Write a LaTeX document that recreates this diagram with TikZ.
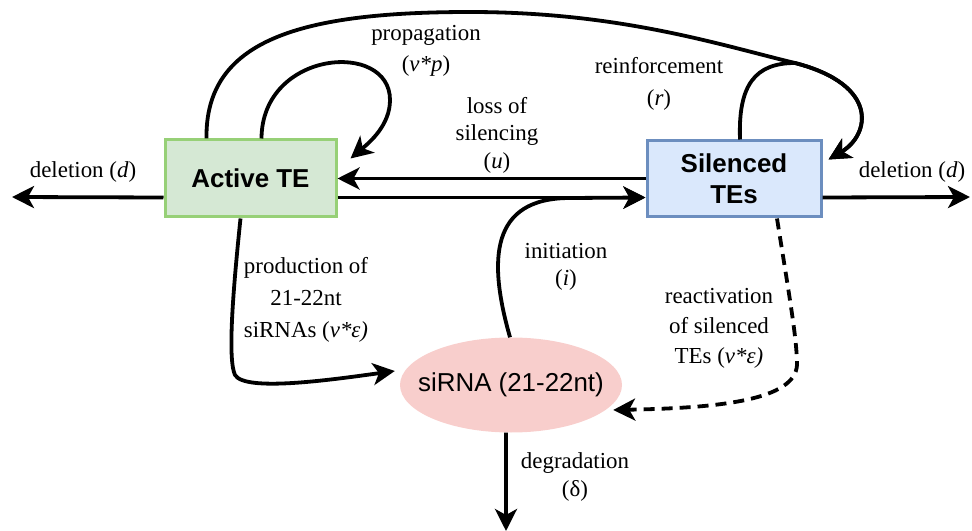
\documentclass[tikz,border=0pt]{standalone}
\usepackage{fontspec}
\setmainfont{Liberation Serif}
\setsansfont{Liberation Sans}
\usetikzlibrary{arrows.meta,shapes.geometric}
\definecolor{gfill}{HTML}{D5E8D4}
\definecolor{gdraw}{HTML}{97D077}
\definecolor{bfill}{HTML}{DAE8FC}
\definecolor{bdraw}{HTML}{6C8EBF}
\definecolor{rfill}{HTML}{F8CECC}
\begin{document}
\begin{tikzpicture}[x=1bp,y=-1bp,
  box/.style={rectangle, line width=3bp, inner sep=0pt, font=\sffamily\bfseries\fontsize{26}{31}\selectfont, align=center},
  conn/.style={line width=3.8bp, -{Stealth[length=22bp,width=22bp,inset=6bp]}},
  dconn/.style={conn, dash pattern=on 11bp off 7bp},
  lbl/.style={inner sep=0pt, align=center},
]
\useasboundingbox (0,0) rectangle (972,531);
% nodes
\node[box, draw=gdraw, fill=gfill, minimum width=171bp, minimum height=77bp] (active) at (250.5,178.5) {Active TE};
\node[box, draw=bdraw, fill=bfill, minimum width=174bp, minimum height=76bp] (sil) at (734,179) {Silenced\\TEs};
\node[ellipse, fill=rfill, minimum width=222bp, minimum height=95bp, inner sep=0pt] (sirna) at (511,385) {};
\node[font=\sffamily\fontsize{26}{31}\selectfont, inner sep=0pt] (sirnatxt) at (sirna.center) {siRNA (21-22nt)};
% free ends
\coordinate (dl) at (12,197);
\coordinate (dr) at (970,197);
\coordinate (dg) at (506,531);
% deletions
\draw[conn] ([yshift=21bp]active.south west) -- (dl);
\draw[conn] ([yshift=21bp]sil.south east) -- (dr);
% active <-> silenced
\draw[conn] ([yshift=21bp]active.south east) -- ([yshift=21bp]sil.south west);
\draw[conn] ([yshift=40bp]sil.south west) -- ([yshift=40bp]active.south east);
% propagation loop
\draw[conn] ([xshift=98bp]active.north west) .. controls (262,50) and (390,40) .. (390,100)
  .. controls (390,125) and (370,142) .. ([xshift=13bp,yshift=-20bp]active.north east);
% big arc
\draw[conn] ([xshift=43bp]active.north west) .. controls (205,40) and (300,12) .. (470,12)
  .. controls (620,12) and (720,45) .. (795,63)
  .. controls (880,85) and (870,135) .. ([xshift=6bp,yshift=-20bp]sil.north east);
% reinforcement
\draw[conn] ([xshift=6bp]sil.north) .. controls (738,85) and (755,63) .. (795,63)
  .. controls (880,85) and (870,135) .. ([xshift=6bp,yshift=-20bp]sil.north east);
% production
\draw[conn] ([xshift=-10bp]active.south) .. controls (232,300) and (228,360) .. (235,375)
  .. controls (245,392) and (330,380) .. ([xshift=-5bp,yshift=14bp]sirna.west);
% initiation
\draw[conn] ([xshift=-1bp]sirna.north) .. controls (488,260) and (490,198) .. (570,198) -- ([yshift=21bp]sil.south west);
% reactivation
\draw[dconn] ([xshift=43bp]sil.south) .. controls (790,300) and (797,340) .. (797,365)
  .. controls (795,400) and (720,408) .. ([xshift=-9bp,yshift=-25bp]sirna.east);
% degradation
\draw[conn] ([xshift=-5bp]sirna.south) -- (dg);
% labels
\node[lbl, font=\fontsize{23}{28}\selectfont] (l1) at (83,172) {deletion (\textit{d})};
\node[lbl, font=\fontsize{23}{28}\selectfont] (l2) at (912,172) {deletion (\textit{d})};
\node[lbl, font=\fontsize{23}{31}\selectfont] (l3) at (426,51) {propagation\\(\textit{v*p})};
\node[lbl, font=\fontsize{23}{27.5}\selectfont] (l4) at (497,135) {loss of\\silencing\\(\textit{u})};
\node[lbl, font=\fontsize{23}{32}\selectfont] (l5) at (659,84) {reinforcement\\(\textit{r})};
\node[lbl, font=\fontsize{23}{32}\selectfont] (l6) at (306,300) {production of\\21-22nt\\siRNAs (\textit{v*ε)}};
\node[lbl, font=\fontsize{23}{27.5}\selectfont] (l7) at (566,267) {initiation\\(\textit{i})};
\node[lbl, font=\fontsize{23}{30}\selectfont] (l8) at (719,328) {reactivation\\of silenced\\TEs (\textit{v*ε)}};
\node[lbl, font=\fontsize{23}{27.5}\selectfont] (l9) at (575,477) {degradation\\(δ)};
\end{tikzpicture}
\end{document}
